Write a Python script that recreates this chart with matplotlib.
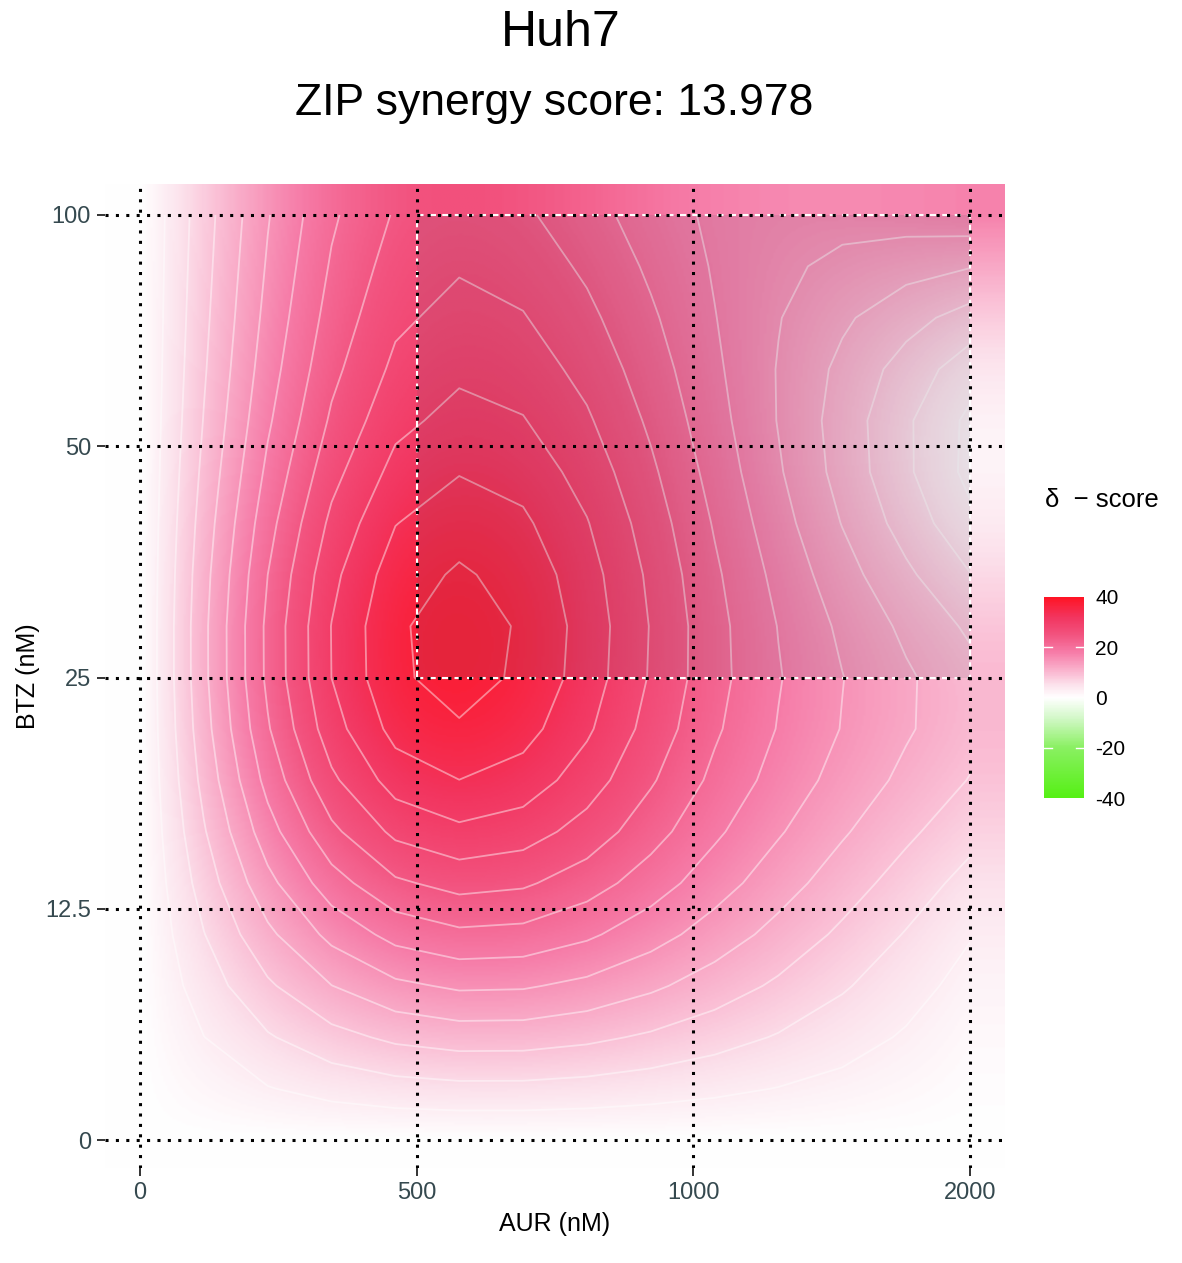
import numpy as np
import matplotlib.pyplot as plt
from matplotlib.colors import LinearSegmentedColormap, Normalize
from matplotlib.patches import Rectangle

plt.rcParams['font.family'] = ['Liberation Sans', 'DejaVu Sans']

# dose labels
aur_labels = ['0', '500', '1000', '2000']
btz_labels = ['0', '12.5', '25', '50', '100']

# delta scores, rows = BTZ dose, cols = AUR dose
delta = np.array([
    [0.0,  0.0,  0.0,  0.0],
    [0.0, 22.0, 16.0,  4.0],
    [0.0, 36.5, 23.5, 10.0],
    [0.0, 31.0, 21.0,  2.0],
    [0.0, 25.0, 18.0, 17.0],
])
zip_score = 13.978
cell_line = 'Huh7'
box_x = [1, 3]   # most synergistic area (index space)
box_y = [2, 4]


def spline_matrix(n, t):
    # natural cubic spline weights, knots at 0..n-1
    A = np.zeros((n, n))
    D = np.zeros((n, n))
    A[0, 0] = A[-1, -1] = 1
    for i in range(1, n - 1):
        A[i, i-1:i+2] = [1, 4, 1]
        D[i, i-1:i+2] = [6, -12, 6]
    S = np.linalg.solve(A, D)
    t = np.clip(t, 0, n - 1)
    i = np.minimum(np.floor(t).astype(int), n - 2)
    u = t - i
    W = np.zeros((len(t), n))
    r = np.arange(len(t))
    W[r, i] += 1 - u
    W[r, i + 1] += u
    W += (((1 - u)**3 - (1 - u)) / 6)[:, None] * S[i] + ((u**3 - u) / 6)[:, None] * S[i + 1]
    return W


nx, ny = len(aur_labels), len(btz_labels)
xlo, xhi = -0.1265, nx - 1 + 0.1265
ylo, yhi = -0.121, ny - 1 + 0.134

# smooth surface for the raster
xf = np.linspace(xlo, xhi, 400)
yf = np.linspace(ylo, yhi, 500)
Zf = spline_matrix(ny, yf) @ delta @ spline_matrix(nx, xf).T

# coarser surface for contour lines
xc = np.linspace(0, nx - 1, 14)
yc = np.linspace(0, ny - 1, 19)
Zc = spline_matrix(ny, yc) @ delta @ spline_matrix(nx, xc).T

anchors = [(-40, '#55F014'), (-20, '#8AF062'), (-8, '#D4F8CA'), (0, '#FFFFFF'),
           (5, '#FCE2EC'), (10, '#FABAD2'), (18, '#F67CA8'), (25, '#F2537F'),
           (32, '#F2355F'), (40, '#FF1424')]
cmap = LinearSegmentedColormap.from_list(
    'delta', [((v + 40) / 80, c) for v, c in anchors])
norm = Normalize(-40, 40)

fig = plt.figure(figsize=(11.82, 12.63), dpi=100)
ax = fig.add_axes([105/1182, 1 - 1168/1263, 900/1182, 984/1263])

ax.imshow(Zf, extent=[xlo, xhi, ylo, yhi], origin='lower', cmap=cmap, norm=norm,
          aspect='auto', interpolation='bilinear', zorder=0)
ax.contour(xc, yc, Zc, levels=np.arange(3, 40, 3), colors='white', alpha=0.45,
           linewidths=1.3, zorder=1)

ax.add_patch(Rectangle((box_x[0], box_y[0]), box_x[1] - box_x[0], box_y[1] - box_y[0],
                       facecolor='#505064', alpha=0.12, edgecolor='none', zorder=2))
ax.add_patch(Rectangle((box_x[0], box_y[0]), box_x[1] - box_x[0], box_y[1] - box_y[0],
                       facecolor='none', edgecolor='white', lw=1.5,
                       linestyle=(0, (3, 3)), zorder=3))

for i in range(nx):
    ax.axvline(i, color='black', lw=2.2, linestyle=(0, (1, 2.4)), zorder=4)
for j in range(ny):
    ax.axhline(j, color='black', lw=2.2, linestyle=(0, (1, 2.4)), zorder=4)

ax.set_xlim(xlo, xhi)
ax.set_ylim(ylo, yhi)
ax.set_xticks(range(nx))
ax.set_xticklabels(aur_labels)
ax.set_yticks(range(ny))
ax.set_yticklabels(btz_labels)
ax.tick_params(length=6, width=1.4, color='#333333', labelsize=17,
               labelcolor='#35494F', pad=4)
for s in ax.spines.values():
    s.set_visible(False)

ax.set_xlabel('AUR (nM)', fontsize=18, labelpad=6)
ax.set_ylabel('BTZ (nM)', fontsize=18, labelpad=4)

fig.text(0.474, 0.992, cell_line, ha='center', va='top', fontsize=36)
fig.text(0.469, 0.934, 'ZIP synergy score: {:.3f}'.format(zip_score),
         ha='center', va='top', fontsize=32)

# colour bar
cax = fig.add_axes([1044/1182, 1 - 798/1263, 40/1182, 201/1263])
cb = fig.colorbar(plt.cm.ScalarMappable(norm=norm, cmap=cmap), cax=cax,
                  ticks=[-40, -20, 0, 20, 40])
cb.ax.set_yticklabels(['-40', '-20', '0', '20', '40'])
cb.outline.set_visible(False)
cb.ax.tick_params(length=0, labelsize=15, pad=8)
for v in [-20, 20]:
    cax.plot([0, 0.2], [v, v], color='white', lw=1, transform=cax.get_yaxis_transform())
    cax.plot([0.8, 1], [v, v], color='white', lw=1, transform=cax.get_yaxis_transform())
fig.text(1045/1182, 1 - 500/1263, 'δ  − score', ha='left', va='center', fontsize=18.5)

fig.savefig('out.png', dpi=100)
